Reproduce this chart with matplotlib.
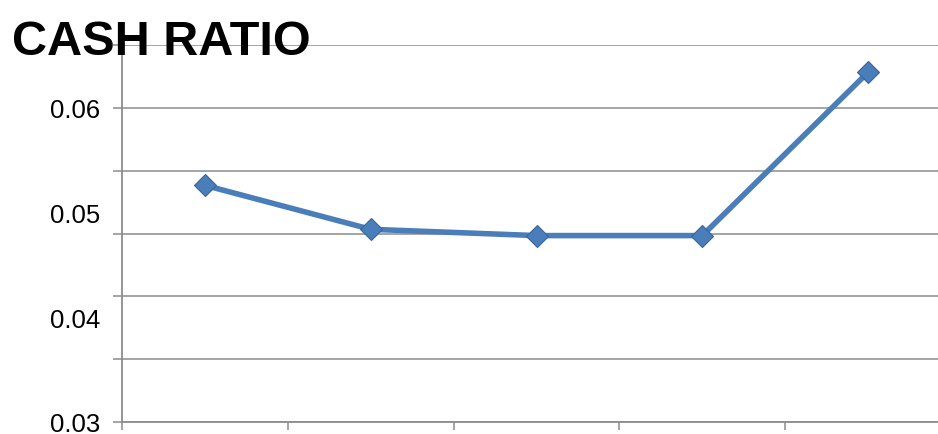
import numpy as np
import matplotlib
matplotlib.use("Agg")
import matplotlib.pyplot as plt
from matplotlib.ticker import FixedLocator, NullFormatter, FormatStrFormatter

# Cash ratio per period (category labels are blank in the source chart)
periods = ["", "", "", "", ""]
cash_ratio = [0.0526, 0.0484, 0.0478, 0.0478, 0.0634]
grid_values = [0.030, 0.036, 0.042, 0.048, 0.054, 0.060, 0.066]
label_values = [0.03, 0.04, 0.05, 0.06]

plt.rcParams["font.family"] = ["Liberation Sans", "DejaVu Sans"]

fig = plt.figure(figsize=(9.38, 4.35), dpi=100)
ax = fig.add_axes([122 / 938, 12 / 435, 829 / 938, 377 / 435])

x = np.arange(len(periods))
ax.plot(x, cash_ratio, color="#4A7EBB", lw=4, marker="D", ms=11,
        markerfacecolor="#4A7EBB", markeredgecolor="#3A6596", markeredgewidth=0.8,
        zorder=3, clip_on=False)

ax.set_xlim(-0.5, len(periods) - 0.5)
ax.set_ylim(0.03, 0.066)

grey = "#8C8C8C"
# gridlines and tick marks on the 0.006 steps, labels at the round values
ax.yaxis.remove_overlapping_locs = False
ax.yaxis.set_major_locator(FixedLocator(grid_values))
ax.yaxis.set_major_formatter(NullFormatter())
ax.yaxis.set_minor_locator(FixedLocator(label_values))
ax.yaxis.set_minor_formatter(FormatStrFormatter("%.2f"))
ax.tick_params(axis="y", which="major", length=6.5, width=1.1, color=grey, direction="out")
ax.tick_params(axis="y", which="minor", length=0, pad=16, labelsize=18.5, labelcolor="black")
ax.grid(axis="y", which="major", color=grey, lw=1.1)

ax.set_xticks(np.arange(-0.5, len(periods) - 0.4, 1.0))
ax.set_xticklabels([""] * (len(periods) + 1))
ax.tick_params(axis="x", length=6, width=1.1, color=grey, direction="out")

for side in ("top", "right"):
    ax.spines[side].set_visible(False)
for side in ("left", "bottom"):
    ax.spines[side].set_color(grey)
    ax.spines[side].set_linewidth(1.3)

fig.text(12 / 938, 1 - 55 / 435, "CASH RATIO", fontsize=35, fontweight="bold",
         va="baseline", ha="left")

fig.savefig("out.png", dpi=100)
